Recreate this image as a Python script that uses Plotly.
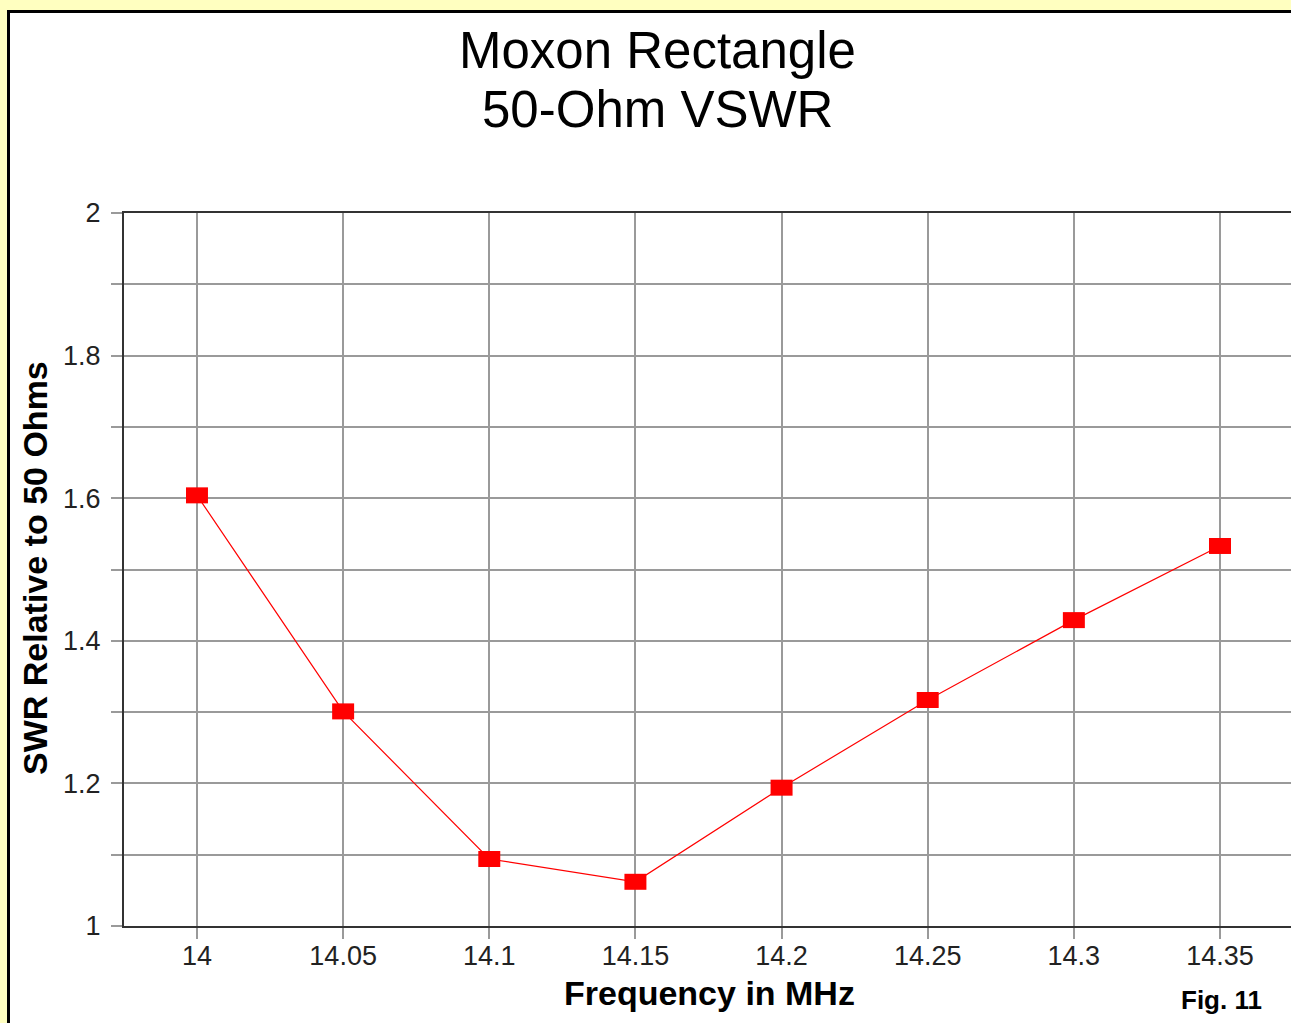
import plotly.graph_objects as go

# ---- data ----
freq_mhz = [14.0, 14.05, 14.1, 14.15, 14.2, 14.25, 14.3, 14.35]
swr = [1.604, 1.301, 1.094, 1.062, 1.194, 1.317, 1.429, 1.533]
x_tick_labels = ["14", "14.05", "14.1", "14.15", "14.2", "14.25", "14.3", "14.35"]
y_tick_vals = [1.0, 1.2, 1.4, 1.6, 1.8, 2.0]
y_tick_labels = ["1", "1.2", "1.4", "1.6", "1.8", "2"]
title_lines = ["Moxon Rectangle", "50-Ohm VSWR"]
x_title = "Frequency in MHz"
y_title = "SWR Relative to 50 Ohms"
fig_label = "Fig. 11"

# ---- layout geometry (pixels) ----
W, H = 1291, 1023
L, T, R, B = 124, 213, 0, 97
PW, PH = W - L - R, H - T - B


def px(x):
    return (x - L) / PW


def py(y):
    return (H - B - y) / PH


FONT = "Liberation Sans, Arial, sans-serif"
GRID = "#9a9a9a"
AXIS = "#333333"

fig = go.Figure()
fig.add_trace(go.Scatter(
    x=freq_mhz, y=swr, mode="lines+markers",
    line=dict(color="#ff0000", width=1.2),
    marker=dict(symbol="line-ew", size=15.7, color="#ff0000",
                line=dict(color="#ff0000", width=16)),
    showlegend=False, hoverinfo="x+y",
))

fig.update_layout(
    width=W, height=H,
    margin=dict(l=L, r=R, t=T, b=B, pad=0, autoexpand=False),
    paper_bgcolor="#ffffc0",
    plot_bgcolor="rgba(0,0,0,0)",
    font=dict(family=FONT, color="#222222"),
    shapes=[
        dict(type="rect", xref="paper", yref="paper",
             x0=px(8.5), x1=px(1310), y0=py(11.5), y1=py(1040),
             fillcolor="#ffffff", line=dict(color="#000000", width=3),
             layer="below"),
    ],
    annotations=[
        dict(text=title_lines[0], xref="paper", yref="paper",
             x=px(657), y=py(51), xanchor="center", yanchor="middle",
             showarrow=False, font=dict(size=51, color="#000000", family=FONT)),
        dict(text=title_lines[1], xref="paper", yref="paper",
             x=px(657), y=py(109), xanchor="center", yanchor="middle",
             showarrow=False, font=dict(size=51, color="#000000", family=FONT)),
        dict(text="<b>" + x_title + "</b>", xref="paper", yref="paper",
             x=px(709), y=py(993), xanchor="center", yanchor="middle",
             showarrow=False, font=dict(size=34, color="#000000", family=FONT)),
        dict(text="<b>" + y_title + "</b>", xref="paper", yref="paper",
             x=px(35), y=py(568), xanchor="center", yanchor="middle",
             textangle=-90,
             showarrow=False, font=dict(size=34, color="#000000", family=FONT)),
        dict(text="<b>" + fig_label + "</b>", xref="paper", yref="paper",
             x=px(1221), y=py(1000), xanchor="center", yanchor="middle",
             showarrow=False, font=dict(size=26, color="#000000", family=FONT)),
    ],
)

fig.update_xaxes(
    range=[13.97503, 14.37429],
    tickvals=freq_mhz, ticktext=x_tick_labels,
    tickfont=dict(size=27, color="#222222", family=FONT),
    ticks="outside", ticklen=11, tickwidth=2, tickcolor=GRID,
    showgrid=True, gridcolor=GRID, gridwidth=2,
    showline=True, linecolor=AXIS, linewidth=2, mirror=True,
    zeroline=False, fixedrange=True,
    ticklabelstandoff=-6,
)
fig.update_yaxes(
    range=[1.0, 2.0],
    tickvals=y_tick_vals, ticktext=y_tick_labels,
    tickfont=dict(size=27, color="#222222", family=FONT),
    ticks="outside", ticklen=11, tickwidth=2, tickcolor=GRID,
    showgrid=True, gridcolor=GRID, gridwidth=2,
    minor=dict(dtick=0.1, tick0=1.0, ticks="outside", ticklen=11,
               tickwidth=2, tickcolor=GRID, showgrid=True,
               gridcolor=GRID, gridwidth=2),
    showline=True, linecolor=AXIS, linewidth=2, mirror=False,
    zeroline=False, fixedrange=True,
    ticklabelstandoff=5,
)

fig.write_html("out.html")
